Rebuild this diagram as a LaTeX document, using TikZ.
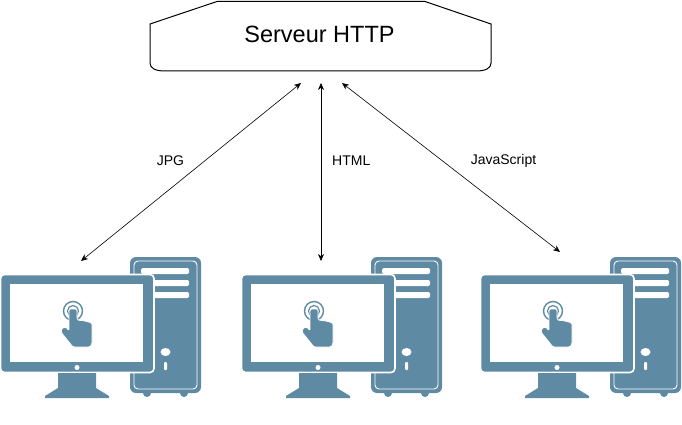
\documentclass[tikz,border=0pt]{standalone}
\usepackage{fontspec}
\setmainfont{Liberation Sans}
\usetikzlibrary{arrows.meta}
\definecolor{pcblue}{HTML}{5F8AA3}
\tikzset{
  x=1pt,y=-1pt,
  serverbox/.style={draw=black,line width=1pt,fill=white},
  link/.style={draw=black,line width=0.6pt,{Stealth[length=7pt,width=6pt]}-{Stealth[length=7pt,width=6pt]}},
  lbl/.style={font=\fontsize{14}{16}\selectfont,inner sep=0pt,text=black},
  pics/computer/.style={code={
    % tower
    \fill[pcblue,rounded corners=6pt] (130,257) rectangle (201,393);
    \fill[pcblue] (147,393) circle[radius=4pt] (184,393) circle[radius=4pt];
    \draw[white,line width=0.9pt,rounded corners=4pt] (134,261) rectangle (197,389);
    \fill[white,rounded corners=1.5pt] (141,268) rectangle (189,274);
    \fill[white,rounded corners=1.5pt] (141,280) rectangle (189,286);
    \fill[white,rounded corners=1.5pt] (141,292) rectangle (189,298);
    \fill[white] (165.5,352) ellipse[x radius=5pt,y radius=4pt];
    \fill[white,rounded corners=1pt] (164,362) rectangle (167,370);
    % monitor
    \fill[pcblue,draw=white,line width=1.6pt,rounded corners=4pt] (0.5,274.5) rectangle (154,372.5);
    \fill[white] (10,284) rectangle (143,362);
    \fill[white] (77,367.5) circle[radius=2.5pt];
    % stand
    \fill[pcblue] (58,373) -- (96,373) -- (96,388) -- (109,396) -- (109,398) -- (45,398) -- (45,396) -- (58,388) -- cycle;
    % touch rings
    \draw[pcblue,line width=1.4pt] (73,311) circle[radius=9.5pt];
    \draw[pcblue,line width=1.2pt] (73,311) circle[radius=5.5pt];
    % hand
    \fill[pcblue,draw=white,line width=0.7pt,rounded corners=1.5pt] (69,315) -- (69,309) -- (77,309) -- (77,320) -- (85,321) -- (92,323) -- (92,344) -- (90,347) -- (73,347) -- (69,342) -- (61,332) -- (62,328) -- (66,327) -- (69,331) -- cycle;
  }}
}
\begin{document}
\begin{tikzpicture}
\useasboundingbox (0,0) rectangle (682,425);
\pic (pcA) at (0,0) {computer};
\pic (pcB) at (241,0) {computer};
\pic (pcC) at (480,0) {computer};
\draw[serverbox] (150,24) -- (217,1.5) -- (425,1.5) -- (491,24) -- (491,63)
  .. controls (491,68) and (486,71) .. (476,71) -- (165,71)
  .. controls (155,71) and (150,68) .. (150,63) -- cycle;
\node[inner sep=0pt,font=\fontsize{23.5}{26}\selectfont] (server) at (319.5,34.5) {Serveur HTTP};
\coordinate (sa) at (301,83);
\coordinate (sb) at (321,83);
\coordinate (sc) at (342,83);
\coordinate (ca) at (81,261);
\coordinate (cb) at (321,261);
\coordinate (cc) at (560,252);
\draw[link] (sa) -- (ca);
\draw[link] (sb) -- (cb);
\draw[link] (sc) -- (cc);
\node[lbl] (jpg) at (170.5,160.5) {JPG};
\begin{scope}
\clip (330,150) rectangle (369,172);
\node[lbl,anchor=west] (html) at (332,160.5) {HTML};
\end{scope}
\node[lbl] (js) at (503.5,160.5) {JavaScript};
\end{tikzpicture}
\end{document}
